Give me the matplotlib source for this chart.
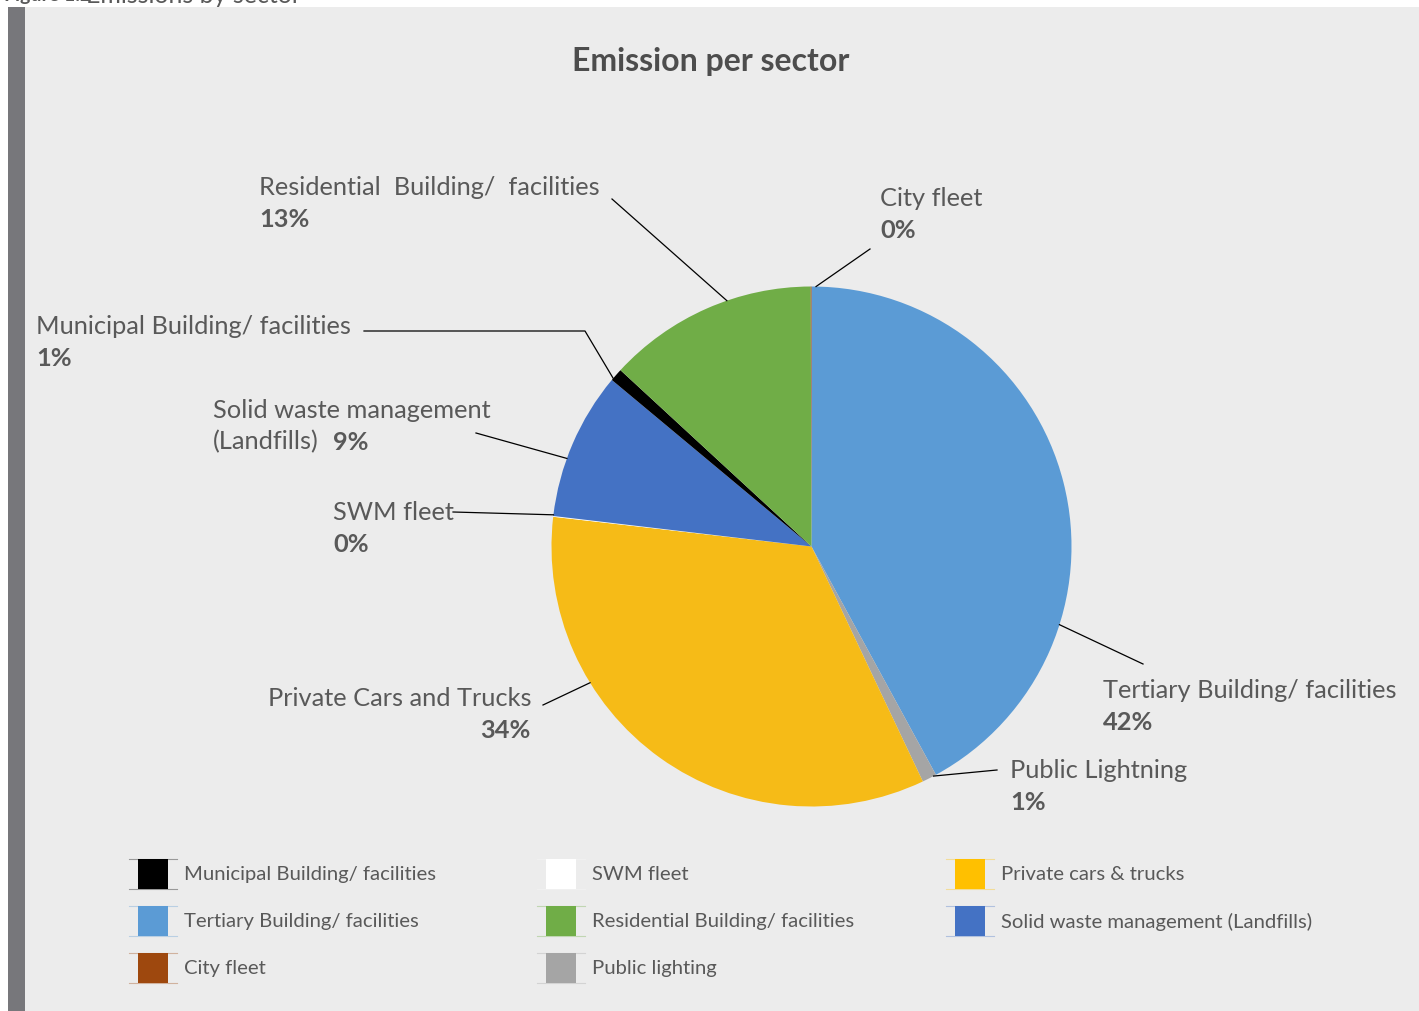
import matplotlib
matplotlib.use("Agg")
import matplotlib.pyplot as plt
from matplotlib.patches import Rectangle
import numpy as np

# ---- data ----
sectors = ["Tertiary Building/ facilities", "Public Lightning", "Private Cars and Trucks",
           "SWM fleet", "Solid waste management", "Municipal Building/ facilities",
           "Residential  Building/  facilities", "City fleet"]
values = [42.1, 0.9, 33.9, 0.05, 9.2, 0.8, 13.1, 0.05]
pct_labels = ["42%", "1%", "34%", "0%", "9%", "1%", "13%", "0%"]
colors = ["#5b9bd5", "#a5a5a5", "#f6bb17", "#ffffff", "#4472c4", "#000000", "#70ad47", "#9e480e"]

legend_labels = ["Municipal Building/ facilities", "SWM fleet", "Private cars & trucks",
                 "Tertiary Building/ facilities", "Residential Building/ facilities",
                 "Solid waste management (Landfills)",
                 "City fleet", "Public lighting"]
legend_colors = ["#000000", "#ffffff", "#ffc000",
                 "#5b9bd5", "#70ad47", "#4472c4",
                 "#9e480e", "#a5a5a5"]

W, H = 1419, 1012
plt.rcParams['font.family'] = ['Lato', 'DejaVu Sans']
fig = plt.figure(figsize=(W / 100, H / 100), dpi=100)
fig.patch.set_facecolor("white")
ax = fig.add_axes([0, 0, 1, 1])

def Y(py):
    return H - py

TXT = "#595959"

# pie
cx, cy, R = 811.5, Y(547.5), 260
ax.pie(values, colors=colors, startangle=90, counterclock=False, center=(cx, cy), radius=R,
       wedgeprops=dict(linewidth=0), frame=True)
ax.set_xlim(0, W)
ax.set_ylim(0, H)
ax.set_aspect("equal")
ax.axis("off")

# panel background
ax.add_patch(Rectangle((8, 0), W - 8, H - 8, facecolor="#ececec", edgecolor="none", zorder=-2))
ax.add_patch(Rectangle((8, 0), 17, H - 8, facecolor="#77777b", edgecolor="none", zorder=-1))
ax.text(4, Y(-5), "Figure 1.2", fontsize=14, fontweight="bold", color=TXT, va="center", ha="left")
ax.text(86, Y(-5), "Emissions by sector", fontsize=18, color=TXT, va="center", ha="left")

# title
ax.text(711, Y(61), "Emission per sector", fontsize=23, fontweight="bold", color="#4d4d4d",
        ha="center", va="center")

# label layout: anchor angle on pie edge, leader end, text pos, optional elbow
layout = {
    "Tertiary Building/ facilities": dict(ang=-17.5, end=(1143, 665), txt=(1103, 690), ha="left"),
    "Public Lightning": dict(ang=-62, end=(997, 771), txt=(1010, 770), ha="left"),
    "Private Cars and Trucks": dict(ang=211.6, end=(543, 706), txt=(531, 699), ha="right"),
    "SWM fleet": dict(ang=173, end=(453, 513), txt=(333, 512), ha="left"),
    "Solid waste management": dict(ang=160.2, end=(476, 434), txt=(213, 410), ha="left"),
    "Municipal Building/ facilities": dict(ang=139.7, end=(364, 332), txt=(36, 327), ha="left",
                                           elbow=(585, 332)),
    "Residential  Building/  facilities": dict(ang=109, end=(612, 200), txt=(259, 187), ha="left"),
    "City fleet": dict(ang=89, end=(870, 250), txt=(880, 198), ha="left"),
}

FS = 18.3
for name, pct in zip(sectors, pct_labels):
    L = layout[name]
    a = np.deg2rad(L["ang"])
    ex, ey = cx + R * np.cos(a), cy + R * np.sin(a)
    pts = [(ex, ey)]
    if "elbow" in L:
        pts.append((L["elbow"][0], Y(L["elbow"][1])))
    pts.append((L["end"][0], Y(L["end"][1])))
    xs, ys = zip(*pts)
    ax.plot(xs, ys, color="black", lw=0.9, zorder=3)
    tx, ty = L["txt"]
    ax.text(tx, Y(ty), name, fontsize=FS, color=TXT, ha=L["ha"], va="center")
    if name == "Solid waste management":
        ax.text(tx, Y(ty + 32), "(Landfills)", fontsize=FS, color=TXT, ha="left", va="center")
        ax.text(tx + 120, Y(ty + 32), pct, fontsize=FS, color=TXT, ha="left", va="center",
                fontweight="bold")
    else:
        ax.text(tx, Y(ty + 32), pct, fontsize=FS, color=TXT, ha=L["ha"], va="center",
                fontweight="bold")

# legend (3 columns, row-wise order)
col_x = [153, 561, 970]
row_y = [875, 922, 969]
for i, (lab, c) in enumerate(zip(legend_labels, legend_colors)):
    mx = col_x[i % 3]
    my = Y(row_y[i // 3])
    for dy in (-15, 15):
        ax.plot([mx - 24, mx + 24], [my + dy, my + dy], color=c if c != "#ffffff" else "#f8f8f8",
                lw=0.8, alpha=0.35, zorder=2)
    ax.plot([mx], [my], marker="s", markersize=21, color=c, markeredgewidth=0, linestyle="none",
            zorder=3)
    ax.text(mx + 31, my, lab, fontsize=14.6, color=TXT, ha="left", va="center")

fig.savefig("out.png", dpi=100, facecolor=fig.get_facecolor())
